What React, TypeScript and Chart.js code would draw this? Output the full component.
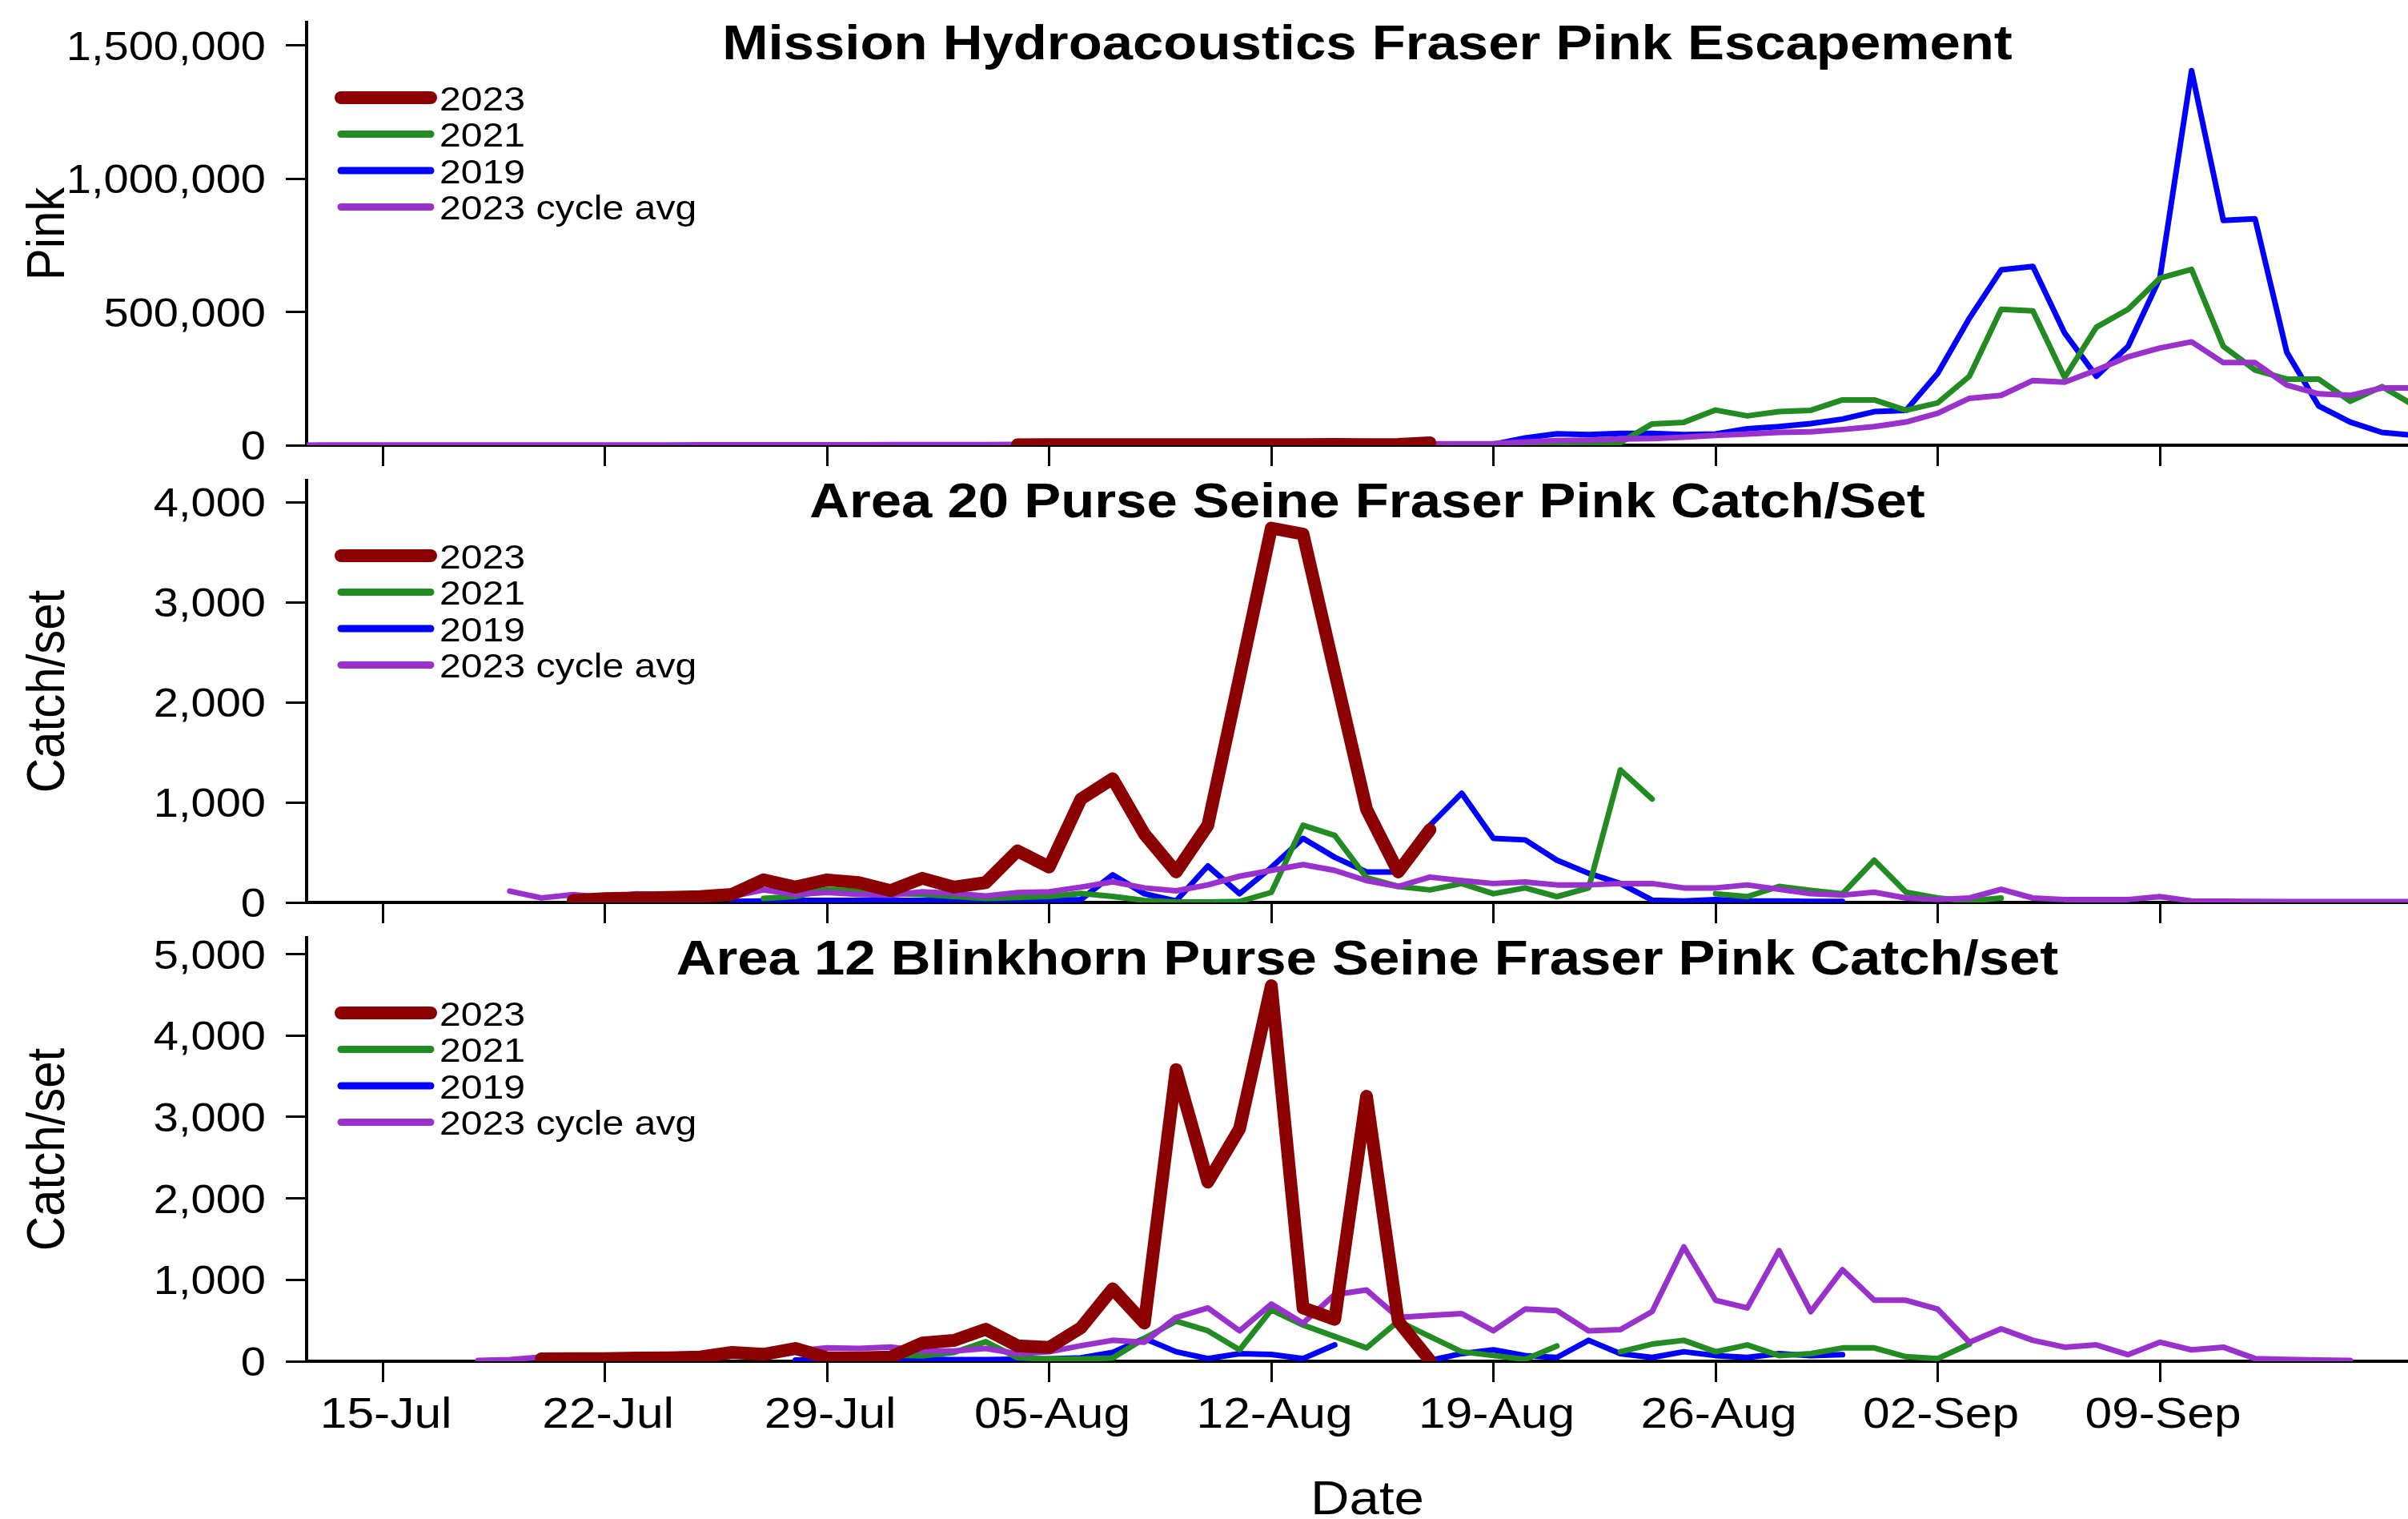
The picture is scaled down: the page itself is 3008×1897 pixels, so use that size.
import React, { useEffect, useRef } from 'react';
import { Chart, registerables } from 'chart.js';

Chart.register(...registerables);

const W = 3008;
const H = 1897;
const FONT = '"Liberation Sans", Arial, Helvetica, sans-serif';
// Text in this figure is drawn slightly wide.
const SX = 1.12;

// Day numbers are counted from 1 July (1 Jul = 0, 1 Aug = 31, 1 Sep = 62).
const dayOf = (month: number, day: number) => (month === 7 ? day - 1 : month === 8 ? 30 + day : 61 + day);

const X_MIN = 11.6;
const X_MAX = 77.82;
const xTickDays = [14, 21, 28, 35, 42, 49, 56, 63, 70];
const xTickLabels = ['15-Jul', '22-Jul', '29-Jul', '05-Aug', '12-Aug', '19-Aug', '26-Aug', '02-Sep', '09-Sep'];

const seriesNames = ['2023', '2021', '2019', '2023 cycle avg'];
const seriesColors = ['#8B0000', '#228B22', '#0000FF', '#9932CC'];

// ---- Mission hydroacoustics escapement ----
const missionTicks = [0, 500000, 1000000, 1500000];
const mission2023Start = dayOf(8, 4);
const mission2023 = [1500, 2000, 2000, 2500, 2000, 2500, 2500, 2000, 2500, 2500, 3000, 2500, 3000, 9000];
const mission2021Start = dayOf(8, 19);
const mission2021 = [
  1000, 1500, 2000, 2500, 10000, 80000, 86000, 132000, 110000, 126000, 131000, 170000, 170000,
  131000, 159000, 259000, 510000, 504000, 254000, 443000, 510000, 627000, 660000, 371000, 282000,
  248000, 248000, 165000, 220000, 150000,
];
const mission2019Start = dayOf(8, 19);
const mission2019 = [
  3000, 27000, 43000, 40000, 44000, 44000, 40000, 42000, 62000, 70000, 81000, 98000, 126000,
  131000, 270000, 477000, 658000, 671000, 421000, 259000, 371000, 627000, 1406000, 844000, 850000,
  349000, 148000, 87000, 48000, 37000,
];
const missionAvgStart = dayOf(7, 12);
const missionAvg = [
  300, 400, 400, 500, 600, 500, 700, 600, 800, 900, 800, 1000, 1100, 1200, 1400, 1300, 1600, 1700, 1800, 2000,
  2200, 2300, 2400, 2700, 2800, 3000, 3100, 3400, 3500, 3600, 3900, 4000, 4200, 4300, 4600, 4700, 4900, 5100,
  6000, 12000, 17000, 19000, 23000, 25000, 30000, 37000, 42000, 48000, 50000, 59000, 70000,
  87000, 120000, 176000, 187000, 243000, 237000, 282000, 332000, 365000, 388000, 310000, 310000,
  226000, 193000, 187000, 215000, 215000,
];

// ---- Area 20 purse seine catch per set ----
const area20Ticks = [0, 1000, 2000, 3000, 4000];
const area20_2023Start = dayOf(7, 21);
const area20_2023 = [
  20, 38, 45, 50, 59, 80, 225, 153, 225, 198, 118,
  241, 153, 198, 515, 354, 1033, 1236, 684, 305, 771, 2250, 3740, 3680, 2300, 931, 305, 727,
];
const area20_2021Start = dayOf(7, 27);
const area20_2021 = [
  40, 60, 130, 110, 90,
  80, 60, 40, 50, 60, 90, 60, 20, 5, 5, 10, 100, 771, 669, 247, 160, 125, 189, 87, 145, 58, 145,
  1324, 1033, null, 87, 58, 160, 120, 87, 422,
  102, 44, 15, 44,
];
const area20_2019Start = dayOf(7, 26);
const area20_2019 = [
  10, 15, 20, 20, 20, 20,
  20, 20, 25, 25, 25, 29, 276, 87, 15, 364, 87, 349, 640, 451, 305, 305, 771, 1091, 640, 625, 422,
  291, 189, 23, 15, 29, 15, 15, 10, 10,
];
const area20AvgStart = dayOf(7, 19);
const area20Avg = [
  113, 45, 78, 51, 86, 72, 64, 59, 126, 80, 99, 80, 72,
  107, 91, 64, 99, 107, 153, 206, 145, 116, 175, 262, 320, 378, 320, 218, 160, 253, 218, 189, 204,
  175, 175, 189, 189, 145, 145, 175, 131, 87, 73, 102,
  44, 29, 44, 131, 44, 29, 29, 29, 58, 15, 12, 10, 8, 8, 8, 8, 8,
];

// ---- Area 12 Blinkhorn purse seine catch per set ----
const area12Ticks = [0, 1000, 2000, 3000, 4000, 5000];
const area12_2023Start = dayOf(7, 20);
const area12_2023 = [
  30, 33, 33, 39, 43, 52, 108, 85, 157, 43, 43, 52,
  223, 256, 393, 190, 170, 410, 890, 468, 3581, 2200, 2856, 4611, 655, 515, 3254, 492, 10,
];
const area12_2021Start = dayOf(7, 29);
const area12_2021 = [
  75, 75, 75,
  66, 108, 240, 43, 26, 26, 40, 281, 492, 374, 140, 632, 445, 304, 164, 492, 304, 117, 70, 23, 187,
  null, 117, 211, 257, 117, 201, 70, 94, 164, 164,
  56, 33, 211,
];
const area12_2019Start = dayOf(7, 28);
const area12_2019 = [
  15, 15, 20, 20,
  25, 20, 20, 25, 30, 43, 108, 281, 117, 33, 94, 84, 33, 201, null, null, 10, 94, 140, 70, 47, 257,
  94, 47, 117, 70, 47, 94, 70, 80,
];
const area12AvgStart = dayOf(7, 18);
const area12Avg = [
  10, 20, 52, 59, 59, 66, 75, 92, 108, 108, 125, 164, 157, 174,
  125, 125, 157, 92, 117, 190, 257, 234, 538, 655, 374, 702, 468, 819, 875, 538, 562, 585, 374, 641,
  622, 374, 389, 609, 1404, 749, 655, 1358, 609, 1124, 749,
  749, 641, 234, 398, 257, 173, 201, 80, 234, 140, 173, 33, 23, 14, 9,
];

type Series = { start: number; values: (number | null)[] };

type Panel = {
  key: string;
  title: string;
  yTitle: string;
  top: number;
  bottom: number;
  yMax: number;
  yTicks: number[];
  series: Series[];
  showDates: boolean;
};

const panels: Panel[] = [
  {
    key: 'mission',
    title: 'Mission Hydroacoustics Fraser Pink Escapement',
    yTitle: 'Pink',
    top: 28,
    bottom: 556,
    yMax: 1587000,
    yTicks: missionTicks,
    series: [
      { start: mission2023Start, values: mission2023 },
      { start: mission2021Start, values: mission2021 },
      { start: mission2019Start, values: mission2019 },
      { start: missionAvgStart, values: missionAvg },
    ],
    showDates: false,
  },
  {
    key: 'area20',
    title: 'Area 20 Purse Seine Fraser Pink Catch/Set',
    yTitle: 'Catch/set',
    top: 600,
    bottom: 1127,
    yMax: 4216,
    yTicks: area20Ticks,
    series: [
      { start: area20_2023Start, values: area20_2023 },
      { start: area20_2021Start, values: area20_2021 },
      { start: area20_2019Start, values: area20_2019 },
      { start: area20AvgStart, values: area20Avg },
    ],
    showDates: false,
  },
  {
    key: 'area12',
    title: 'Area 12 Blinkhorn Purse Seine Fraser Pink Catch/set',
    yTitle: 'Catch/set',
    top: 1171,
    bottom: 1700,
    yMax: 5202,
    yTicks: area12Ticks,
    series: [
      { start: area12_2023Start, values: area12_2023 },
      { start: area12_2021Start, values: area12_2021 },
      { start: area12_2019Start, values: area12_2019 },
      { start: area12AvgStart, values: area12Avg },
    ],
    showDates: true,
  },
];

const Y_AXIS_RIGHT = 383;
const TITLE_X = 1708;
const LINE_WIDTHS = [16, 7, 7, 7];
const LEGEND_WIDTHS = [16, 9, 9, 9];
const DRAW_ORDER = [0, 2, 3, 1];

function drawText(
  ctx: CanvasRenderingContext2D,
  text: string,
  x: number,
  y: number,
  font: string,
  align: CanvasTextAlign,
  rotated = false,
) {
  ctx.save();
  ctx.translate(x, y);
  if (rotated) {
    ctx.rotate(-Math.PI / 2);
    ctx.scale(1, SX);
  } else {
    ctx.scale(SX, 1);
  }
  ctx.font = font;
  ctx.textAlign = align;
  ctx.textBaseline = 'alphabetic';
  ctx.fillStyle = '#000';
  ctx.fillText(text, 0, 0);
  ctx.restore();
}

function panelTextPlugin(p: Panel) {
  return {
    id: 'panelText_' + p.key,
    afterDraw(chart: any) {
      const ctx: CanvasRenderingContext2D = chart.ctx;
      const area = chart.chartArea;
      const yScale = chart.scales.y;
      const xScale = chart.scales.x;

      drawText(ctx, p.title, TITLE_X, area.top + 46, `bold 61.5px ${FONT}`, 'center');

      p.yTicks.forEach((v) => {
        drawText(ctx, v.toLocaleString('en-US'), 332, yScale.getPixelForValue(v) + 18, `50px ${FONT}`, 'right');
      });

      drawText(ctx, p.yTitle, 80, (area.top + area.bottom) / 2, `60px ${FONT}`, 'center', true);

      // Legend, one row per series
      chart.data.datasets.forEach((ds: any, i: number) => {
        const cy = area.top + 94 + i * 45.5;
        ctx.save();
        ctx.strokeStyle = ds.borderColor;
        ctx.lineWidth = LEGEND_WIDTHS[i];
        ctx.lineCap = 'round';
        ctx.beginPath();
        ctx.moveTo(426, cy);
        ctx.lineTo(538, cy);
        ctx.stroke();
        ctx.restore();
        drawText(ctx, ds.label, 549, cy + 15.5, `43px ${FONT}`, 'left');
      });

      if (p.showDates) {
        xTickDays.forEach((d, i) => {
          drawText(ctx, xTickLabels[i], xScale.getPixelForValue(d) + 4, 1783, `54px ${FONT}`, 'center');
        });
        drawText(ctx, 'Date', TITLE_X, 1891, `60px ${FONT}`, 'center');
      }
    },
  };
}

function buildChart(canvas: HTMLCanvasElement, p: Panel) {
  const datasets = p.series.map((s, i) => ({
    label: seriesNames[i],
    data: s.values.map((v, j) => ({ x: s.start + j, y: v })),
    borderColor: seriesColors[i],
    backgroundColor: seriesColors[i],
    borderWidth: LINE_WIDTHS[i],
    borderJoinStyle: 'round' as const,
    borderCapStyle: 'round' as const,
    pointRadius: 0,
    pointHoverRadius: 0,
    tension: 0,
    spanGaps: false,
    fill: false,
    order: DRAW_ORDER[i],
  }));

  return new Chart(canvas, {
    type: 'line',
    data: { datasets },
    options: {
      animation: false,
      responsive: false,
      maintainAspectRatio: false,
      devicePixelRatio: 1,
      events: [],
      layout: { padding: { top: p.top, left: 0, right: 0, bottom: 0 } },
      plugins: {
        legend: { display: false },
        title: { display: false },
        tooltip: { enabled: false },
      },
      scales: {
        x: {
          type: 'linear',
          position: 'bottom',
          min: X_MIN,
          max: X_MAX,
          afterBuildTicks: (scale: any) => {
            scale.ticks = xTickDays.map((value) => ({ value }));
          },
          afterFit: (scale: any) => {
            scale.height = H - p.bottom;
          },
          ticks: { display: false },
          grid: {
            display: true,
            drawOnChartArea: false,
            drawTicks: true,
            tickLength: 26,
            tickWidth: 3,
            tickColor: '#000',
          },
          border: { display: true, color: '#000', width: 4 },
        },
        y: {
          type: 'linear',
          position: 'left',
          min: 0,
          max: p.yMax,
          afterBuildTicks: (scale: any) => {
            scale.ticks = p.yTicks.map((value) => ({ value }));
          },
          afterFit: (scale: any) => {
            scale.width = Y_AXIS_RIGHT;
          },
          ticks: { display: false },
          grid: {
            display: true,
            drawOnChartArea: false,
            drawTicks: true,
            tickLength: 26,
            tickWidth: 3,
            tickColor: '#000',
          },
          border: { display: true, color: '#000', width: 4 },
        },
      },
    },
    plugins: [panelTextPlugin(p)],
  } as any);
}

export default function App() {
  const canvasRefs = useRef<(HTMLCanvasElement | null)[]>([]);

  useEffect(() => {
    const charts = panels.map((p, i) => buildChart(canvasRefs.current[i] as HTMLCanvasElement, p));
    return () => {
      charts.forEach((c) => c.destroy());
    };
  }, []);

  return (
    <div style={{ position: 'absolute', left: 0, top: 0, width: W, height: H, background: '#fff', overflow: 'hidden' }}>
      {panels.map((p, i) => (
        <canvas
          key={p.key}
          ref={(el) => {
            canvasRefs.current[i] = el;
          }}
          width={W}
          height={H}
          style={{ position: 'absolute', left: 0, top: 0, width: W, height: H }}
        />
      ))}
    </div>
  );
}
